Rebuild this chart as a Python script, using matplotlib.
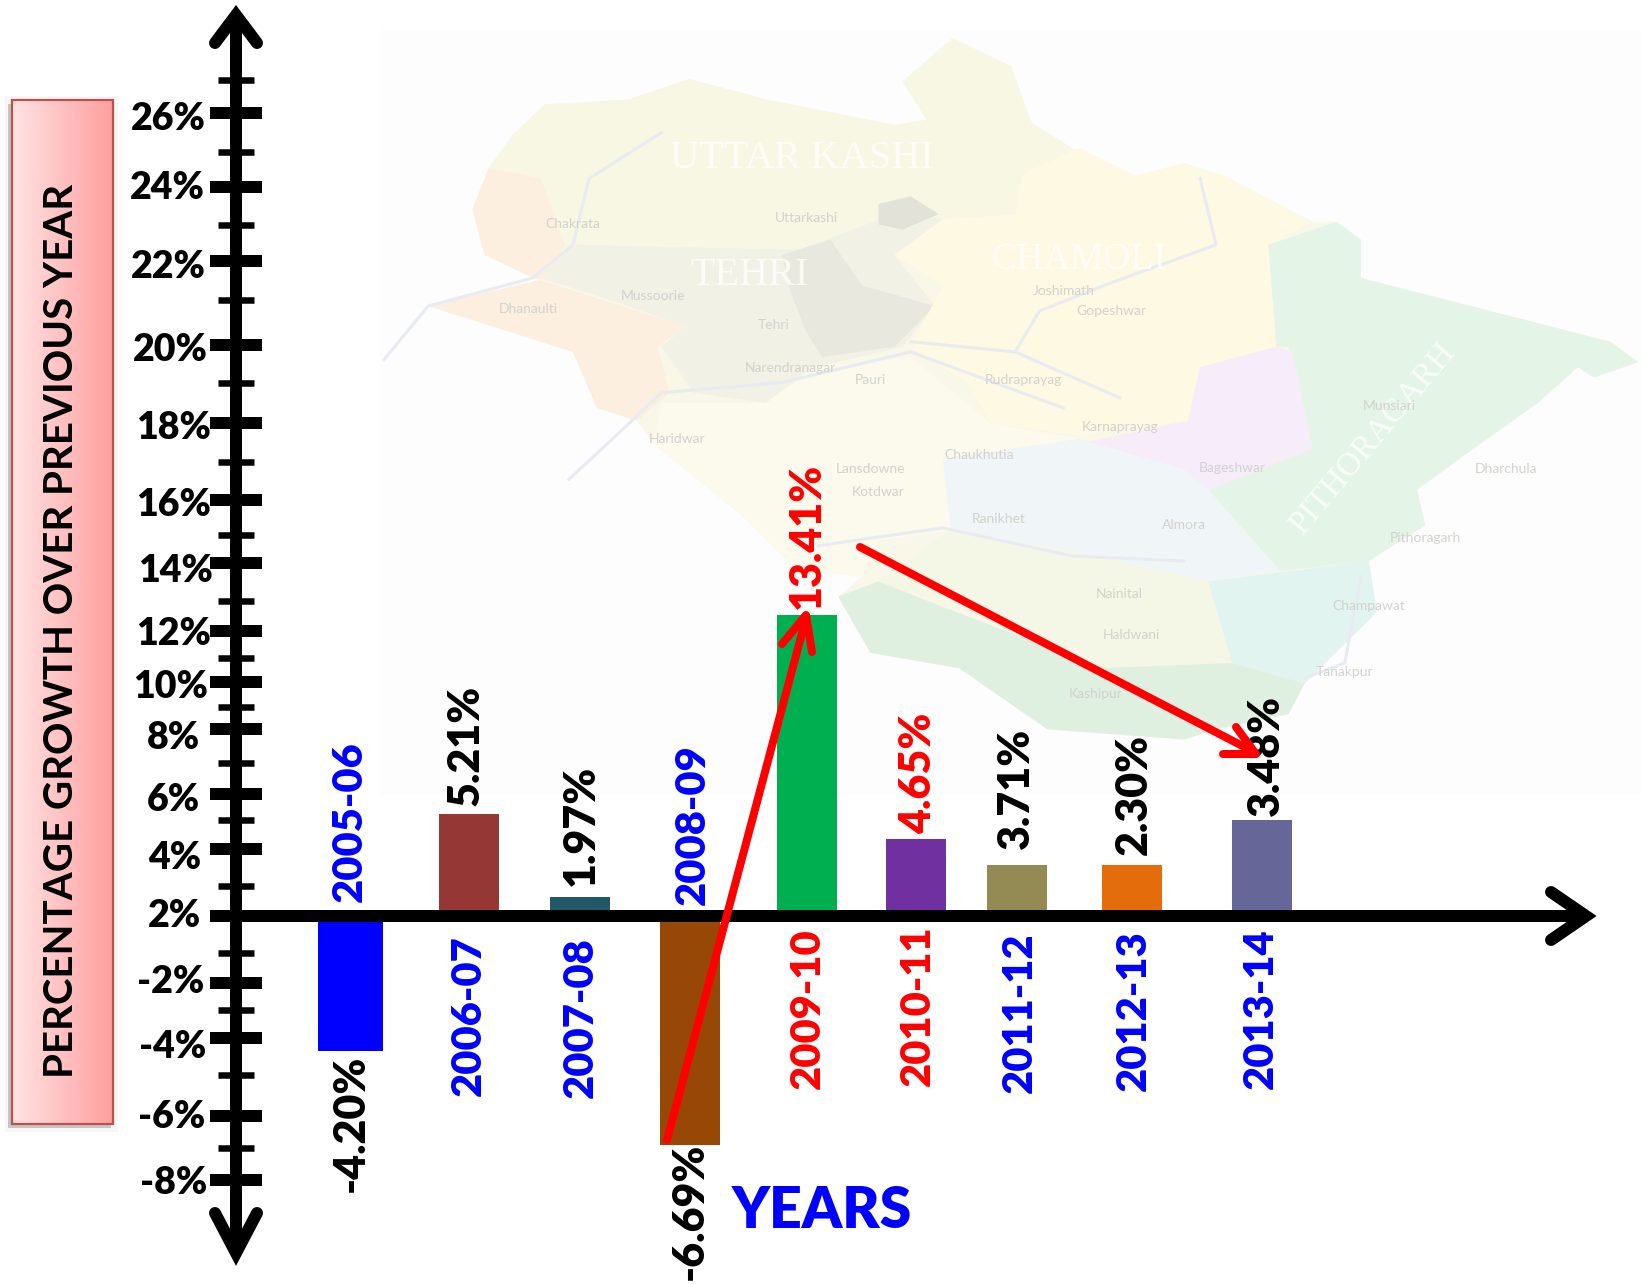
import numpy as np
import matplotlib
matplotlib.use('Agg')
import matplotlib.pyplot as plt
from matplotlib.transforms import Affine2D
from matplotlib.patches import Polygon, Rectangle
from matplotlib.colors import to_rgb

W, H = 1641, 1284
DPI = 100
PT = 72 / DPI

# ---- data ----
years = ['2005-06', '2006-07', '2007-08', '2008-09', '2009-10', '2010-11', '2011-12', '2012-13', '2013-14']
value_labels = ['-4.20%', '5.21%', '1.97%', '-6.69%', '13.41%', '4.65%', '3.71%', '2.30%', '3.48%']
# heights as they read against the drawn (uneven) axis
bar_values = [-4.35, 5.23, 2.63, -6.91, 12.53, 4.34, 3.57, 3.57, 5.00]
major_ticks = [26, 24, 22, 20, 18, 16, 14, 12, 10, 8, 6, 4, 2, -2, -4, -6, -8]
minor_ticks = [27, 25, 23, 21, 19, 17, 15, 13, 11, 9, 7, 5, 3, -1, -3, -5, -7]

# ---- layout and style ----
BASELINE = 2
bar_centers = [350.5, 468.5, 580, 690, 807, 916, 1017, 1132, 1262]
bar_widths = [65, 60, 60, 60, 60, 60, 60, 60, 60]
bar_colors = ['#0000FF', '#953735', '#215968', '#974806', '#00B050', '#7030A0', '#948A54', '#E46C0A', '#666699']
year_colors = ['#0000FF', '#0000FF', '#0000FF', '#0000FF', '#FF0000', '#FF0000', '#0000FF', '#0000FF', '#0000FF']
value_colors = ['k', 'k', 'k', 'k', '#FF0000', '#FF0000', 'k', 'k', 'k']
year_xy = [(350, 822), (469, 1016), (581, 1018), (693, 825), (808, 1009), (918, 1006), (1020, 1013), (1134, 1011), (1261, 1009)]
value_xy = [(351, 1123), (466, 745), (581, 825), (690, 1211), (807, 536), (918, 773), (1016, 788), (1134, 794), (1266, 755)]
major_px = [113, 187, 261, 344.5, 423, 500, 563, 631, 681.5, 729, 794, 849, 916, 983, 1038, 1115.6, 1180]
minor_px = [80, 152, 225, 300, 383, 462, 535, 601, 658, 707, 763, 820, 886, 952.5, 1010, 1075, 1148]
tick_label_xy = [(206, 119), (205, 188), (206, 267), (208, 350), (211, 428), (211, 505), (213, 571), (211, 634),
                 (208, 687), (200, 738), (200, 800), (201, 858), (201, 916), (204, 982), (206, 1047), (205, 1117), (207, 1183)]

knots = sorted(zip(major_ticks + minor_ticks + [30, -10], major_px + minor_px + [0, H]))
k_val = np.array([k[0] for k in knots], float)
k_px = np.array([k[1] for k in knots], float)


def fwd(v):
    return -np.interp(v, k_val, k_px)


def inv(t):
    return np.interp(t, -k_px, k_val)


plt.rcParams['font.family'] = ['Lato', 'DejaVu Sans']
fig = plt.figure(figsize=(W / DPI, H / DPI), dpi=DPI)
ax = fig.add_axes([0, 0, 1, 1])
ax.patch.set_alpha(0)
ax.set_yscale('function', functions=(fwd, inv))
ax.set_xlim(0, W)
ax.set_ylim(-10, 30)
px = Affine2D().scale(1 / W, -1 / H).translate(0, 1) + ax.transAxes

# ---- faded map background ----
ax.add_patch(Rectangle((380, 30), W - 380, 765, transform=px, fc='#FDFDFD', ec='none', zorder=0.1))


def m(points):
    return [(380 + 0.804 * x, 0.51 * y) for x, y in points]


outline = [(135, 330), (165, 265), (205, 205), (310, 195), (385, 155), (480, 195), (640, 245), (680, 235), (650, 160), (712, 75),
           (785, 130), (810, 240), (860, 290), (940, 345), (1000, 320), (1050, 345), (1160, 435), (1190, 435), (1220, 470), (1220, 545),
           (1530, 670), (1565, 710), (1510, 740), (1490, 720), (1440, 790), (1360, 880), (1290, 960), (1300, 1030), (1230, 1100),
           (1240, 1200), (1150, 1340), (1130, 1400), (1040, 1430), (1000, 1450), (830, 1430), (720, 1310), (610, 1280), (570, 1170),
           (600, 1130), (520, 1120), (450, 1010), (340, 870), (320, 825), (270, 800), (240, 690), (60, 600), (210, 545), (130, 500), (115, 410)]
ax.add_patch(Polygon(m(outline), closed=True, transform=px, fc='#F8F7E8', ec='none', zorder=0.15))

regions = [
    ('#F8F7E4', [(135, 330), (165, 265), (205, 205), (310, 195), (385, 155), (480, 195), (640, 245), (680, 235), (650, 160), (712, 75), (785, 130), (810, 240), (860, 290), (800, 350), (790, 420), (700, 430), (640, 480), (520, 500), (390, 490), (240, 490), (130, 500)]),
    ('#FCEFDF', [(135, 330), (200, 350), (230, 480), (210, 545), (60, 600), (240, 690), (270, 800), (320, 825), (360, 770), (345, 680), (380, 640), (300, 600), (190, 545), (130, 500), (115, 410)]),
    ('#F1F1E6', [(240, 480), (520, 490), (640, 420), (700, 430), (640, 500), (690, 600), (650, 680), (540, 720), (480, 790), (390, 770), (350, 680), (380, 640), (290, 590), (200, 545)]),
    ('#E2E2D8', [(620, 400), (660, 385), (695, 420), (650, 450), (620, 440)]),
    ('#E8E8DE', [(500, 500), (560, 470), (600, 560), (690, 600), (640, 680), (550, 700), (530, 650), (510, 570)]),
    ('#FEF9E2', [(700, 430), (790, 420), (800, 340), (870, 290), (940, 345), (1000, 320), (1050, 345), (1160, 435), (1105, 480), (1115, 680), (1020, 720), (1005, 825), (870, 855), (760, 830), (730, 750), (660, 680), (700, 560), (640, 500)]),
    ('#E4F5E8', [(1105, 480), (1190, 435), (1220, 470), (1220, 545), (1530, 670), (1565, 710), (1510, 740), (1490, 720), (1440, 790), (1360, 880), (1290, 960), (1300, 1030), (1230, 1100), (1120, 1120), (1030, 960), (1160, 880), (1130, 680), (1115, 680)]),
    ('#F7ECFA', [(1020, 720), (1115, 680), (1135, 690), (1160, 880), (1030, 960), (1000, 920), (870, 870), (1005, 825)]),
    ('#F0F5F7', [(700, 900), (870, 860), (1000, 920), (1030, 960), (1120, 1120), (1030, 1140), (860, 1080), (700, 1040)]),
    ('#FBFAEC', [(350, 790), (480, 790), (540, 720), (660, 700), (760, 830), (870, 860), (700, 900), (710, 1040), (620, 1060), (600, 1130), (520, 1120), (450, 1010), (340, 870)]),
    ('#F5F7E6', [(620, 1140), (710, 1040), (860, 1080), (1030, 1140), (1060, 1300), (900, 1310), (700, 1180)]),
    ('#E2F4F0', [(1030, 1140), (1230, 1100), (1240, 1200), (1150, 1340), (1060, 1300)]),
    ('#DFF0E0', [(570, 1170), (620, 1140), (700, 1190), (900, 1310), (1060, 1300), (1150, 1340), (1130, 1400), (1040, 1430), (1000, 1450), (830, 1430), (720, 1310), (610, 1280)]),
]
for color, pts in regions:
    ax.add_patch(Polygon(m(pts), closed=True, transform=px, fc=color, ec='none', zorder=0.2))

rivers = [
    [(5, 705), (60, 600), (190, 545), (240, 480), (260, 350), (350, 260)],
    [(235, 940), (310, 830), (350, 770), (500, 750), (660, 690), (850, 800)],
    [(660, 670), (790, 690), (920, 780)],
    [(790, 690), (820, 610), (900, 560), (1040, 480), (1020, 350)],
    [(545, 1070), (700, 1035), (860, 1090), (1000, 1100)],
    [(1220, 1130), (1200, 1300), (1150, 1330)],
]
for r in rivers:
    xs, ys = zip(*m(r))
    ax.plot(xs, ys, transform=px, color='#E9EBF2', lw=2.2, zorder=0.3)

map_big = [('UTTAR KASHI', 525, 310, 0, 29), ('TEHRI', 460, 540, 0, 29), ('CHAMOLI', 870, 510, 0, 27), ('PITHORAGARH', 1235, 860, 50, 24)]
for s, x, y, rot, size in map_big:
    (mx, my), = m([(x, y)])
    ax.text(mx, my, s, transform=px, color='white', alpha=0.75, fontsize=size, rotation=rot,
            ha='center', va='center', zorder=0.4, family='Liberation Serif')
map_small = [('Chakrata', 240, 440), ('Dhanaulti', 185, 605), ('Mussoorie', 340, 580), ('Tehri', 490, 637), ('Uttarkashi', 530, 428),
             ('Gopeshwar', 910, 610), ('Karnaprayag', 920, 838), ('Almora', 1000, 1030), ('Ranikhet', 770, 1018), ('Bageshwar', 1060, 918),
             ('Munsiari', 1255, 797), ('Dharchula', 1400, 920), ('Nainital', 920, 1165), ('Champawat', 1230, 1188), ('Pithoragarh', 1300, 1055),
             ('Kashipur', 890, 1360), ('Chaukhutia', 745, 892), ('Lansdowne', 610, 920), ('Kotdwar', 620, 965), ('Haridwar', 370, 860),
             ('Narendranagar', 510, 722), ('Pauri', 610, 745), ('Rudraprayag', 800, 745), ('Joshimath', 850, 570), ('Haldwani', 935, 1245), ('Tanakpur', 1200, 1318)]
for s, x, y in map_small:
    (mx, my), = m([(x, y)])
    ax.text(mx, my, s, transform=px, color='#D2D2CE', fontsize=10, ha='center', va='center', zorder=0.4)

# ---- bars ----
ax.bar(bar_centers, np.array(bar_values) - BASELINE, width=bar_widths, bottom=BASELINE,
       color=bar_colors, zorder=2)

# ---- axes ----
for side in ('top', 'right'):
    ax.spines[side].set_visible(False)
ax.spines['left'].set_position(('data', 236))
ax.spines['bottom'].set_position(('data', BASELINE))
ax.spines['left'].set_linewidth(12 * PT)
ax.spines['bottom'].set_linewidth(12 * PT)
ax.spines['left'].set_bounds(float(inv(-1245)), float(inv(-22)))
ax.spines['bottom'].set_bounds(230, 1580)
ax.spines['left'].set_zorder(4)
ax.spines['bottom'].set_zorder(4)
ax.set_yticks(major_ticks)
ax.set_yticks(minor_ticks, minor=True)
ax.set_xticks([])
ax.tick_params(axis='y', which='major', direction='inout', length=53 * PT, width=12 * PT, labelleft=False, color='k')
ax.tick_params(axis='y', which='minor', direction='inout', length=36 * PT, width=6.5 * PT, labelleft=False, color='k')

arrow_heads = [
    [(215, 43), (236, 15), (257, 43)],
    [(215, 1213), (236, 1253), (257, 1213)],
    [(1551, 892), (1586, 916), (1551, 940)],
]
for head in arrow_heads:
    xs, ys = zip(*head)
    ax.plot(xs, ys, transform=px, color='k', lw=12 * PT, solid_capstyle='round', solid_joinstyle='miter', zorder=5)

# ---- tick labels ----
for t, (x, y) in zip(major_ticks, tick_label_xy):
    ax.text(x, y, f'{t}%', transform=px, ha='right', va='center', fontsize=27, fontweight='heavy', color='k', zorder=6)

# ---- rotated labels ----
for s, (x, y), c in zip(years, year_xy, year_colors):
    ax.text(x, y, s, transform=px, rotation=90, ha='center', va='center', fontsize=30, fontweight='heavy', color=c, zorder=6)
for s, (x, y), c in zip(value_labels, value_xy, value_colors):
    ax.text(x, y, s, transform=px, rotation=90, ha='center', va='center', fontsize=31, fontweight='heavy', color=c, zorder=6)

ax.text(822, 1211, 'YEARS', transform=px, ha='center', va='center', fontsize=41, fontweight='heavy', color='#0000FF', zorder=6)

# ---- y title box ----
ax.add_patch(Rectangle((5, 96), 113, 1036, transform=px, fc='#F7F7F7', ec='none', zorder=0.5))
ax.add_patch(Rectangle((8, 104), 103, 1024, transform=px, fc='#C6C6C6', ec='none', zorder=0.6))
box_left, box_right, box_top, box_bottom = 12, 113, 100, 1124
left_c, right_c = np.array(to_rgb('#FFE2E2')), np.array(to_rgb('#FF9F9F'))
n = box_right - box_left
for i in range(n):
    f = i / (n - 1)
    ax.add_patch(Rectangle((box_left + i, box_top), 1.2, box_bottom - box_top, transform=px,
                           fc=tuple(left_c * (1 - f) + right_c * f), ec='none', zorder=0.7))
ax.add_patch(Rectangle((box_left, box_top), box_right - box_left, box_bottom - box_top, transform=px,
                       fc='none', ec='#C0504D', lw=2.2 * PT, zorder=0.8))
ax.text(62, 631, 'PERCENTAGE GROWTH OVER PREVIOUS YEAR', transform=px, rotation=90, ha='center', va='center',
        fontsize=29, fontweight='bold', color='k', zorder=6)

# ---- red trend arrows ----
red_lines = [
    [(667, 1140), (806, 618)],
    [(860, 547), (1254, 752)],
]
red_heads = [
    [(782, 644), (806, 615), (812, 652)],
    [(1223, 754), (1256, 754), (1236, 727)],
]
for line in red_lines + red_heads:
    xs, ys = zip(*line)
    ax.plot(xs, ys, transform=px, color='#FF0000', lw=8 * PT, solid_capstyle='round', solid_joinstyle='round', zorder=7)

fig.savefig('out.png', dpi=DPI)
